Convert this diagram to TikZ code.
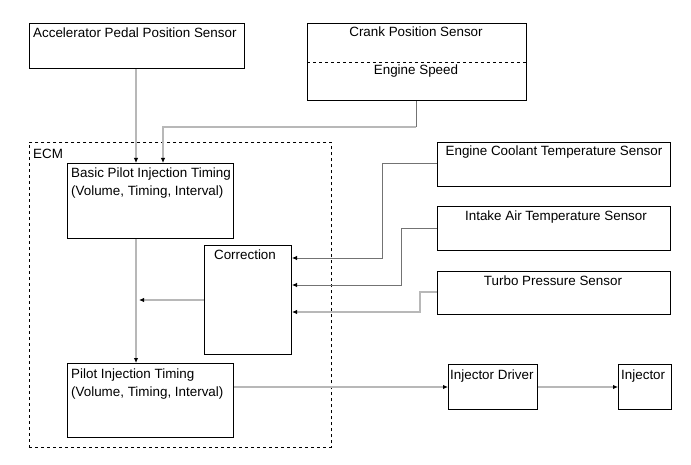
\documentclass[tikz,border=0pt]{standalone}
\usepackage{fontspec}
\setmainfont{Liberation Sans}
\usetikzlibrary{arrows.meta}
\begin{document}
\begin{tikzpicture}[x=1pt,y=-1pt,
  box/.style={draw=black,line width=1pt,inner sep=0pt,anchor=north west},
  txt/.style={inner sep=0pt,font=\fontsize{13.4}{15}\selectfont},
  conn/.style={draw=black!28,line width=1.3pt},
  dconn/.style={draw=black!55,line width=0.8pt},
  arr/.style={-{Latex[length=5pt,width=4.5pt,color=black]}}]
\useasboundingbox[fill=white] (0,0) rectangle (691,465);
% ECM frame
\node[box,dashed,line width=0.8pt,minimum width=302pt,minimum height=305pt] (ecm) at (29,142) {};
\node[txt,anchor=base west] (ecmt) at (33,159) {ECM};
% boxes
\node[box,minimum width=215pt,minimum height=45pt] (acc) at (29,23) {};
\node[txt,anchor=base west] (acct) at (33,38) {Accelerator Pedal Position Sensor};
\node[box,minimum width=219pt,minimum height=77pt] (crank) at (307,23) {};
\draw[dashed,line width=0.8pt] (crank.west |- 0,62) coordinate (cdl) -- (crank.east |- 0,62) coordinate (cdr);
\node[txt,anchor=base] (crankt) at (416,37) {Crank Position Sensor};
\node[txt,anchor=base] (speedt) at (416,75) {Engine Speed};
\node[box,minimum width=166pt,minimum height=75pt] (basic) at (67,163) {};
\node[txt,anchor=base west] (basict1) at (71,178) {Basic Pilot Injection Timing};
\node[txt,anchor=base west] (basict2) at (71,196) {(Volume, Timing, Interval)};
\node[box,minimum width=87pt,minimum height=109pt] (corr) at (204,245) {};
\node[txt,anchor=base] (corrt) at (245,259) {Correction};
\node[box,minimum width=166pt,minimum height=74pt] (pilot) at (67,363) {};
\node[txt,anchor=base west] (pilott1) at (71,378) {Pilot Injection Timing};
\node[txt,anchor=base west] (pilott2) at (71,396) {(Volume, Timing, Interval)};
\node[box,minimum width=233pt,minimum height=44pt] (ect) at (437,142) {};
\node[txt,anchor=base] (ectt) at (554,156) {Engine Coolant Temperature Sensor};
\node[box,minimum width=233pt,minimum height=44pt] (iat) at (437,206) {};
\node[txt,anchor=base] (iatt) at (556,221) {Intake Air Temperature Sensor};
\node[box,minimum width=233pt,minimum height=43pt] (turbo) at (437,271) {};
\node[txt,anchor=base] (turbot) at (553,286) {Turbo Pressure Sensor};
\node[box,minimum width=89pt,minimum height=45pt] (drv) at (448,364) {};
\node[txt,anchor=base west] (drvt) at (450,379) {Injector Driver};
\node[box,minimum width=53pt,minimum height=45pt] (inj) at (618,364) {};
\node[txt,anchor=base west] (injt) at (621,379) {Injector};
% connectors
\draw[conn,arr] (acc.south -| 136,0) -- (basic.north -| 136,0);
\draw[dconn] (crank.south -| 416,0) -- (416,127) coordinate (c1);
\draw[conn,arr] (c1) -- (163,127) -- (basic.north -| 163,0);
\draw[conn,arr] (basic.south -| 136,0) -- (pilot.north -| 136,0);
\coordinate (mergept) at (139,300);
\draw[conn,arr] (corr.west |- 0,300) -- (mergept);
\draw[dconn,arr] (ect.west |- 0,163) -- (382,163) -- (382,258) -- (corr.east |- 0,258);
\draw[dconn,arr] (iat.west |- 0,228) -- (401,228) -- (401,285) -- (corr.east |- 0,285);
\draw[conn,arr] (turbo.west |- 0,292) -- (420,292) -- (420,312) -- (corr.east |- 0,312);
\draw[conn,arr] (pilot.east |- 0,387) -- (drv.west |- 0,387);
\draw[conn,arr] (drv.east |- 0,387) -- (inj.west |- 0,387);
\end{tikzpicture}
\end{document}
